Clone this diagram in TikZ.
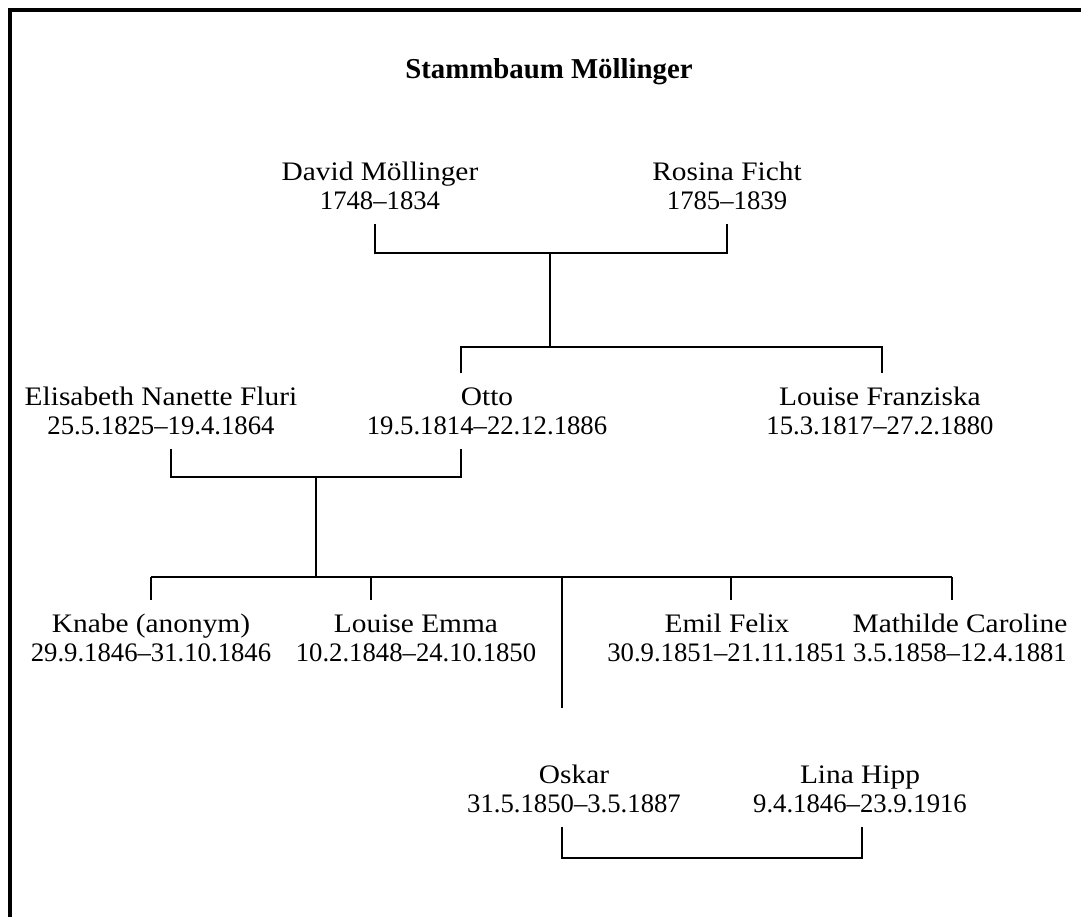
\documentclass[tikz,border=0pt]{standalone}
\usepackage{fontspec}
\setmainfont{Liberation Serif}[FakeStretch=1.1]
\newfontfamily\datefont{Liberation Serif}
\newfontfamily\titlefont{Liberation Serif}
\usetikzlibrary{positioning,calc}

\begin{document}
\begin{tikzpicture}[x=0.1mm, y=-0.1mm,
    person/.style={align=center, inner sep=0pt, outer ysep=4pt,
      font=\fontsize{7.6pt}{8.25pt}\selectfont},
    tie/.style={line width=0.6pt},
    frameline/.style={line width=1pt}]
    \useasboundingbox (0,0) rectangle (1081,917);
    \draw[frameline] (10,917) -- (10,10) -- (1081,10);
    \node[font=\titlefont\bfseries\fontsize{8.2pt}{9pt}\selectfont] (title) at (549,72) {Stammbaum Möllinger};

    % first generation
    \node[person] (david) at (380,186) {David Möllinger\\\datefont 1748–1834};
    \node[person] (rosina) at (727,186) {Rosina Ficht\\\datefont 1785–1839};
    % second generation
    \node[person] (elisabeth) at (161,411) {Elisabeth Nanette Fluri\\\datefont 25.5.1825–19.4.1864};
    \node[person] (otto) at (487,411) {Otto\\\datefont 19.5.1814–22.12.1886};
    \node[person] (franziska) at (880,411) {Louise Franziska\\\datefont 15.3.1817–27.2.1880};
    % third generation
    \node[person] (knabe) at (151,638) {Knabe (anonym)\\\datefont 29.9.1846–31.10.1846};
    \node[person] (emma) at (416,638) {Louise Emma\\\datefont 10.2.1848–24.10.1850};
    \node[person] (emil) at (727,638) {Emil Felix\\\datefont 30.9.1851–21.11.1851};
    \node[person] (mathilde) at (960,638) {Mathilde Caroline\\\datefont 3.5.1858–12.4.1881};
    \node[person] (oskar) at (574,789) {Oskar\\\datefont 31.5.1850–3.5.1887};
    \node[person] (lina) at (860,789) {Lina Hipp\\\datefont 9.4.1846–23.9.1916};

    % junctions
    \coordinate (jdavid) at (375,253);
    \coordinate (jrosina) at (727,253);
    \coordinate (jtop) at (550,253);
    \coordinate (jsib) at (550,347);
    \coordinate (jotto) at (461,347);
    \coordinate (jfranz) at (882,347);
    \coordinate (jelis) at (171,477);
    \coordinate (jotto2) at (461,477);
    \coordinate (jpair) at (316,477);
    \coordinate (jkids) at (316,577);
    \coordinate (jknabe) at (151,577);
    \coordinate (jemma) at (371,577);
    \coordinate (joskar) at (562,577);
    \coordinate (jemil) at (731,577);
    \coordinate (jmath) at (952,577);
    \coordinate (joskarend) at (562,708);
    \coordinate (jos2) at (562,858);
    \coordinate (jlina) at (862,858);

    % marriage and descent lines
    \draw[tie] (david.south -| jdavid) -- (jdavid) -- (jrosina) -- (rosina.south -| jrosina);
    \draw[tie] (jtop) -- (jsib);
    \draw[tie] (otto.north -| jotto) -- (jotto) -- (jfranz) -- (franziska.north -| jfranz);
    \draw[tie] (elisabeth.south -| jelis) -- (jelis) -- (jotto2) -- (otto.south -| jotto2);
    \draw[tie] (jpair) -- (jkids);
    \draw[tie] (jknabe) -- (jmath);
    \draw[tie] (jknabe) -- (knabe.north -| jknabe);
    \draw[tie] (jemma) -- (emma.north -| jemma);
    \draw[tie] (jemil) -- (emil.north -| jemil);
    \draw[tie] (jmath) -- (mathilde.north -| jmath);
    \draw[tie] (joskar) -- (joskarend);
    \draw[tie] (oskar.south -| jos2) -- (jos2) -- (jlina) -- (lina.south -| jlina);
\end{tikzpicture}
\end{document}
